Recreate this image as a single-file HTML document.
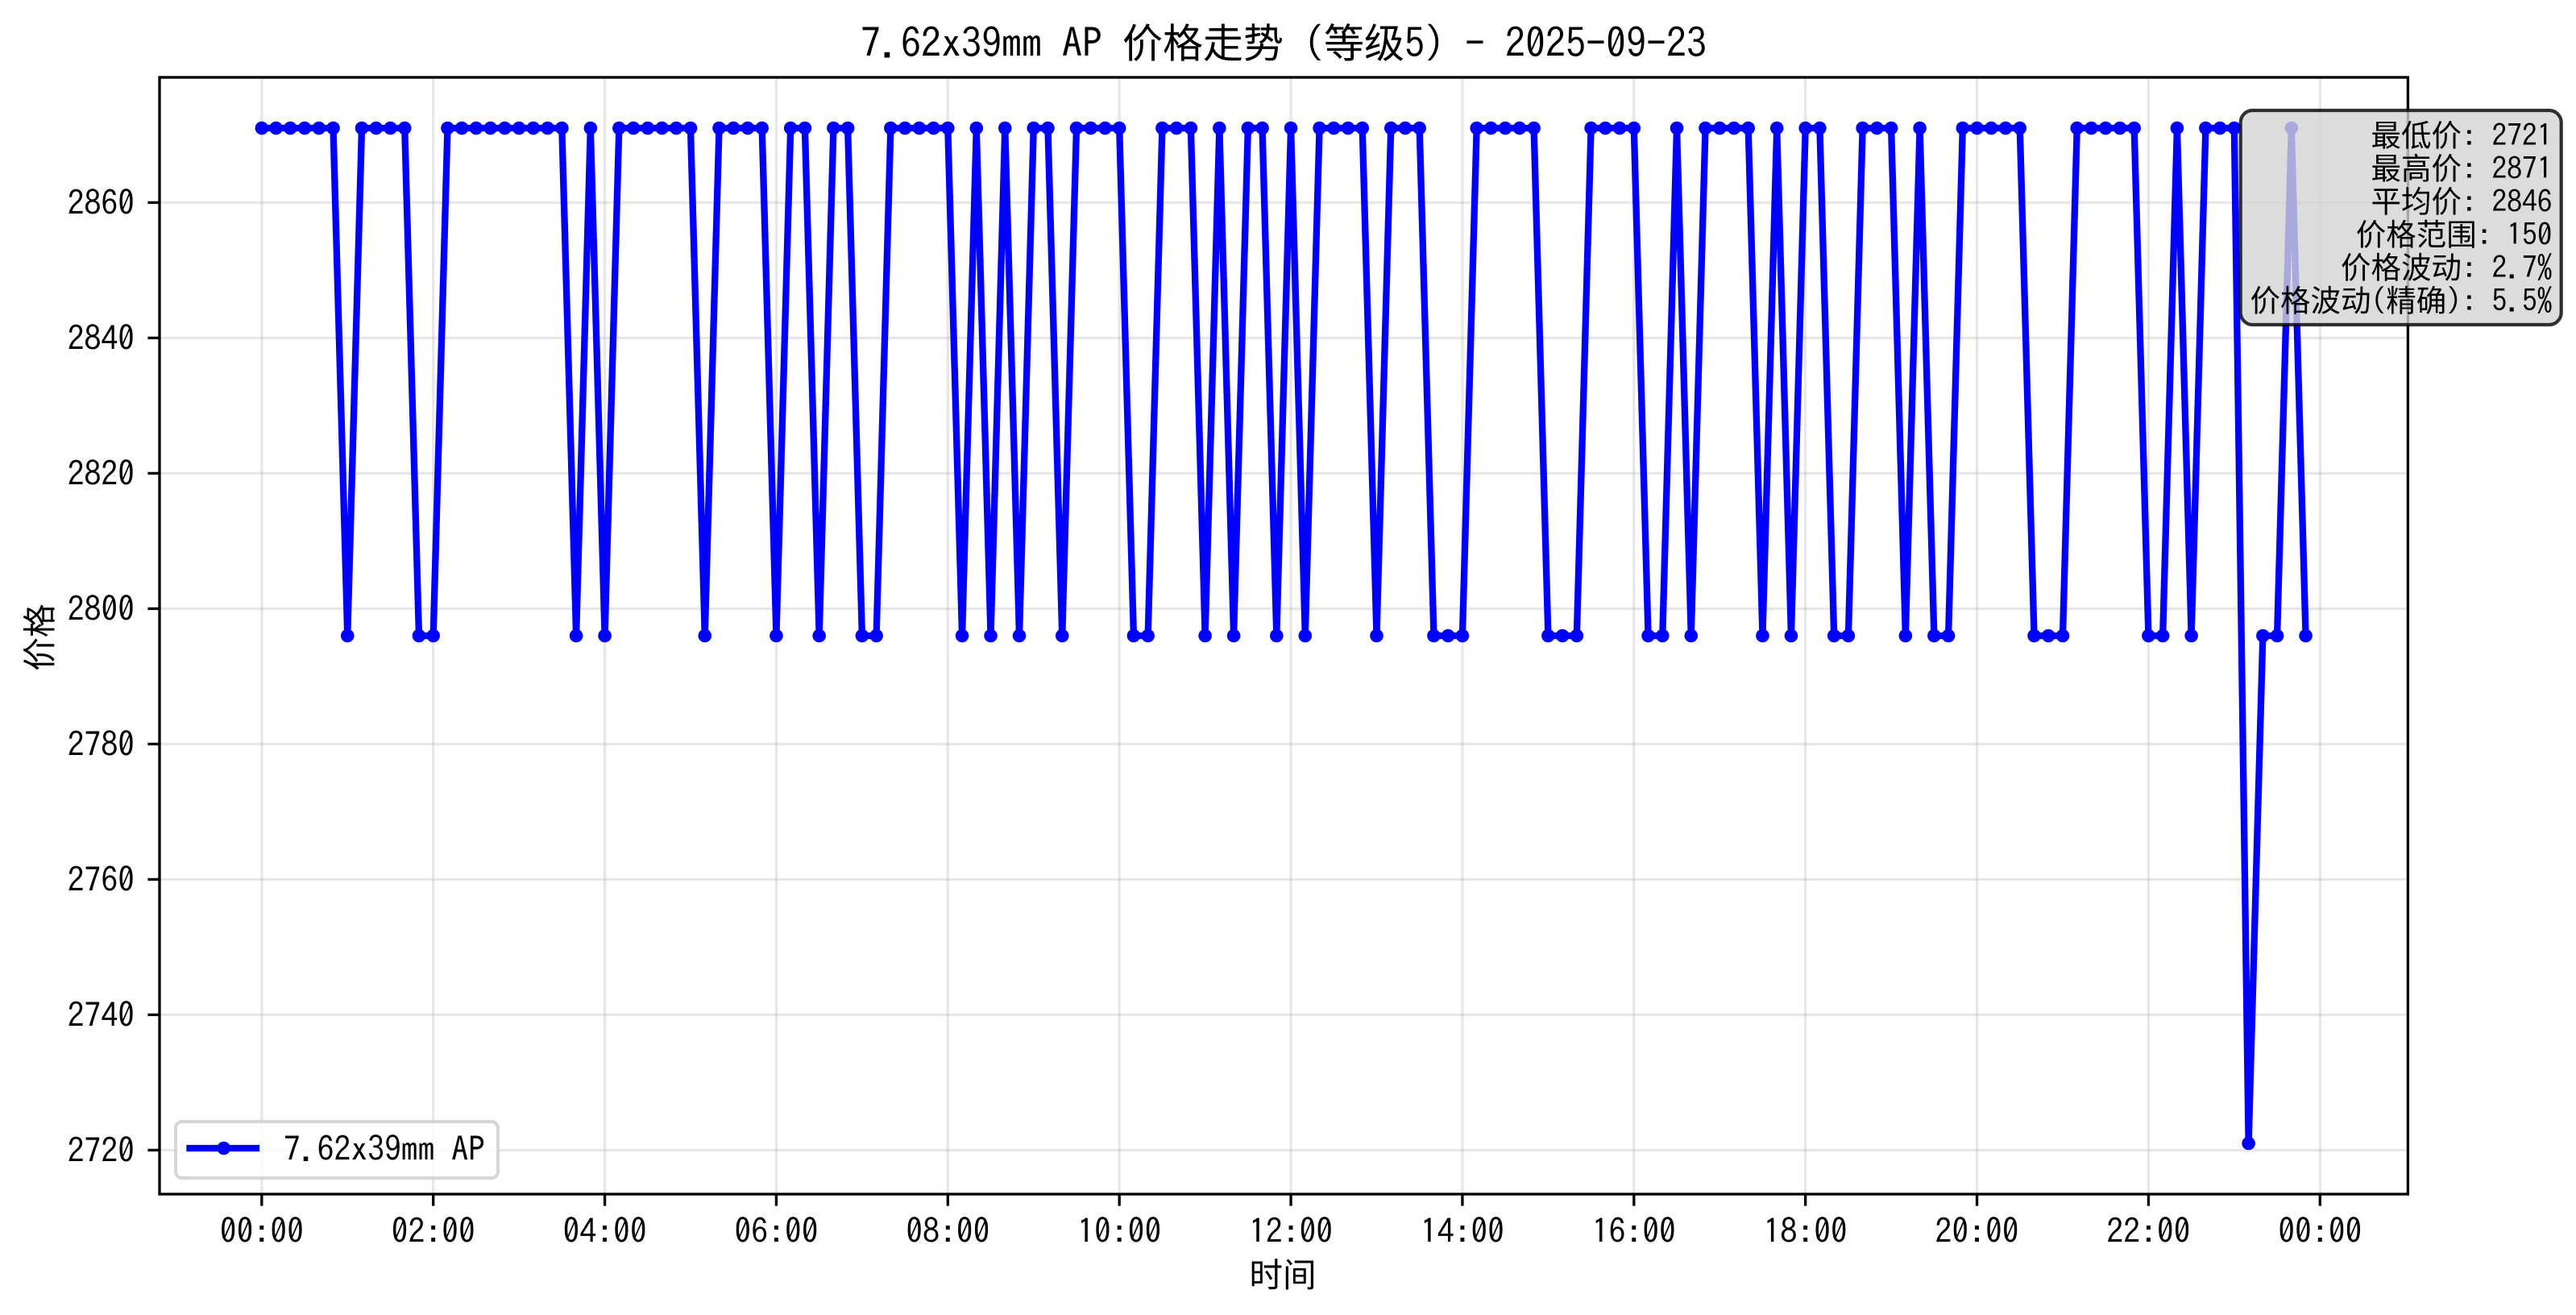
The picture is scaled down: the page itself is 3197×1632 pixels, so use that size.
<!DOCTYPE html>
<html lang="zh">
<head>
<meta charset="utf-8">
<title>7.62x39mm AP 价格走势</title>
<style>
html,body{margin:0;padding:0;background:#fff;}
svg{display:block;}
text{white-space:pre;fill:#000;}
.lat{font-family:"IPAGothic","Liberation Mono",monospace;}
.cjk{font-family:"Noto Sans CJK SC","WenQuanYi Zen Hei",sans-serif;}
.tick-text{font-family:"IPAGothic","Liberation Mono",monospace;font-size:41.67px;}
.stat{font-size:37.5px;}
</style>
</head>
<body>
<svg id="chart" xmlns="http://www.w3.org/2000/svg" width="3197" height="1632" viewBox="0 0 3197 1632">
  <rect x="0" y="0" width="3197" height="1632" fill="#ffffff"/>
  <g id="grid"></g>
  <g id="series"></g>
  <rect x="198" y="96" width="2790.4" height="1386" fill="none" stroke="#000" stroke-width="3.33"/>
  <g id="ticks"></g>

  <text x="1593" y="71.5" text-anchor="middle" font-size="50"><tspan class="lat">7.62x39mm AP </tspan><tspan class="cjk">价格走势</tspan><tspan class="lat"> (</tspan><tspan class="cjk">等级</tspan><tspan class="lat">5) - 2025-09-23</tspan></text>
  <text class="cjk" x="1592" y="1597" text-anchor="middle" font-size="41.67">时间</text>
  <text class="cjk" transform="translate(64 791) rotate(-90)" text-anchor="middle" font-size="41.67">价格</text>

  <g>
    <rect x="218" y="1392" width="400" height="70" rx="8" ry="8" fill="#ffffff" fill-opacity="0.8" stroke="#cccccc" stroke-opacity="0.8" stroke-width="4.17"/>
    <line x1="235.5" y1="1425" x2="318" y2="1425" stroke="#0000ff" stroke-width="8.33" stroke-linecap="square"/>
    <circle cx="277.7" cy="1425" r="8.3" fill="#0000ff"/>
    <text class="lat" x="352" y="1441" font-size="41.67">7.62x39mm AP</text>
  </g>

  <g>
    <rect x="2780.7" y="137" width="398" height="266" rx="15" ry="15" fill="#d3d3d3" fill-opacity="0.8" stroke="#000000" stroke-opacity="0.8" stroke-width="4.17"/>
    <text class="stat" x="3167.5" y="181.5" text-anchor="end"><tspan class="cjk">最低价</tspan><tspan class="lat">: 2721</tspan></text>
    <text class="stat" x="3167.5" y="222.5" text-anchor="end"><tspan class="cjk">最高价</tspan><tspan class="lat">: 2871</tspan></text>
    <text class="stat" x="3167.5" y="263.5" text-anchor="end"><tspan class="cjk">平均价</tspan><tspan class="lat">: 2846</tspan></text>
    <text class="stat" x="3167.5" y="304.5" text-anchor="end"><tspan class="cjk">价格范围</tspan><tspan class="lat">: 150</tspan></text>
    <text class="stat" x="3167.5" y="345.5" text-anchor="end"><tspan class="cjk">价格波动</tspan><tspan class="lat">: 2.7%</tspan></text>
    <text class="stat" x="3167.5" y="386.5" text-anchor="end"><tspan class="cjk">价格波动</tspan><tspan class="lat">(</tspan><tspan class="cjk">精确</tspan><tspan class="lat">): 5.5%</tspan></text>
  </g>
</svg>
<script>
const times = [
"00:00","00:10","00:20","00:30","00:40","00:50","01:00","01:10","01:20","01:30","01:40","01:50",
"02:00","02:10","02:20","02:30","02:40","02:50","03:00","03:10","03:20","03:30","03:40","03:50",
"04:00","04:10","04:20","04:30","04:40","04:50","05:00","05:10","05:20","05:30","05:40","05:50",
"06:00","06:10","06:20","06:30","06:40","06:50","07:00","07:10","07:20","07:30","07:40","07:50",
"08:00","08:10","08:20","08:30","08:40","08:50","09:00","09:10","09:20","09:30","09:40","09:50",
"10:00","10:10","10:20","10:30","10:40","10:50","11:00","11:10","11:20","11:30","11:40","11:50",
"12:00","12:10","12:20","12:30","12:40","12:50","13:00","13:10","13:20","13:30","13:40","13:50",
"14:00","14:10","14:20","14:30","14:40","14:50","15:00","15:10","15:20","15:30","15:40","15:50",
"16:00","16:10","16:20","16:30","16:40","16:50","17:00","17:10","17:20","17:30","17:40","17:50",
"18:00","18:10","18:20","18:30","18:40","18:50","19:00","19:10","19:20","19:30","19:40","19:50",
"20:00","20:10","20:20","20:30","20:40","20:50","21:00","21:10","21:20","21:30","21:40","21:50",
"22:00","22:10","22:20","22:30","22:40","22:50","23:00","23:10","23:20","23:30","23:40","23:50"
];
const prices = [
2871,2871,2871,2871,2871,2871,2796,2871,2871,2871,2871,2796,
2796,2871,2871,2871,2871,2871,2871,2871,2871,2871,2796,2871,
2796,2871,2871,2871,2871,2871,2871,2796,2871,2871,2871,2871,
2796,2871,2871,2796,2871,2871,2796,2796,2871,2871,2871,2871,
2871,2796,2871,2796,2871,2796,2871,2871,2796,2871,2871,2871,
2871,2796,2796,2871,2871,2871,2796,2871,2796,2871,2871,2796,
2871,2796,2871,2871,2871,2871,2796,2871,2871,2871,2796,2796,
2796,2871,2871,2871,2871,2871,2796,2796,2796,2871,2871,2871,
2871,2796,2796,2871,2796,2871,2871,2871,2871,2796,2871,2796,
2871,2871,2796,2796,2871,2871,2871,2796,2871,2796,2796,2871,
2871,2871,2871,2871,2796,2796,2796,2871,2871,2871,2871,2871,
2796,2796,2871,2796,2871,2871,2871,2721,2796,2796,2871,2796
];
const yTickValues = [2720,2740,2760,2780,2800,2820,2840,2860];
const xTickLabels = ["00:00","02:00","04:00","06:00","08:00","10:00","12:00","14:00","16:00","18:00","20:00","22:00","00:00"];
const xTickHours = [0,2,4,6,8,10,12,14,16,18,20,22,24];

const NS = "http://www.w3.org/2000/svg";
const plotLeft = 198, plotRight = 2988.4, plotTop = 96, plotBottom = 1482;

function minutesOf(t){
  const p = t.split(":");
  return Number(p[0]) * 60 + Number(p[1]);
}
const firstMinute = minutesOf(times[0]);
const lastMinute = minutesOf(times[times.length - 1]);
const xMargin = (lastMinute - firstMinute) * 0.05;
const xDomainMin = firstMinute - xMargin;
const xDomainMax = lastMinute + xMargin;
const dataMin = Math.min.apply(null, prices);
const dataMax = Math.max.apply(null, prices);
const yMargin = (dataMax - dataMin) * 0.05;
const yDomainMin = dataMin - yMargin;
const yDomainMax = dataMax + yMargin;

function xScale(m){
  return plotLeft + (m - xDomainMin) / (xDomainMax - xDomainMin) * (plotRight - plotLeft);
}
function yScale(v){
  return plotBottom - (v - yDomainMin) / (yDomainMax - yDomainMin) * (plotBottom - plotTop);
}
function make(tag, parent){
  const el = document.createElementNS(NS, tag);
  parent.appendChild(el);
  return el;
}
function setLine(el, x1, y1, x2, y2, color, width, opacity){
  el.setAttribute("x1", x1);
  el.setAttribute("y1", y1);
  el.setAttribute("x2", x2);
  el.setAttribute("y2", y2);
  el.setAttribute("stroke", color);
  el.setAttribute("stroke-width", width);
  el.setAttribute("stroke-opacity", opacity);
}

const gridGroup = document.getElementById("grid");
const tickGroup = document.getElementById("ticks");
const seriesGroup = document.getElementById("series");

xTickHours.forEach(function(h, i){
  const x = xScale(h * 60);
  const g = make("line", gridGroup);
  
  
  setLine(g, x, plotTop, x, plotBottom, "#b0b0b0", 3.33, 0.3);
  const t = make("line", tickGroup);
  
  
  setLine(t, x, plotBottom, x, plotBottom + 14.6, "#000", 3.33, 1);
  const l = make("text", tickGroup);
  
  
  l.setAttribute("class", "tick-text");
  l.setAttribute("x", x);
  l.setAttribute("y", 1543);
  l.setAttribute("text-anchor", "middle");
  l.textContent = xTickLabels[i];
});

yTickValues.forEach(function(v){
  const y = yScale(v);
  const g = make("line", gridGroup);
  
  
  setLine(g, plotLeft, y, plotRight, y, "#b0b0b0", 3.33, 0.3);
  const t = make("line", tickGroup);
  
  
  setLine(t, plotLeft - 14.6, y, plotLeft, y, "#000", 3.33, 1);
  const l = make("text", tickGroup);
  
  
  l.setAttribute("class", "tick-text");
  l.setAttribute("x", 167);
  l.setAttribute("y", y + 15.5);
  l.setAttribute("text-anchor", "end");
  l.textContent = String(v);
});

const linePoints = prices.map(function(v, i){
  return xScale(minutesOf(times[i])).toFixed(2) + "," + yScale(v).toFixed(2);
}).join(" ");
const priceLine = make("polyline", seriesGroup);


priceLine.setAttribute("points", linePoints);
priceLine.setAttribute("fill", "none");
priceLine.setAttribute("stroke", "#0000ff");
priceLine.setAttribute("stroke-width", "8.33");
priceLine.setAttribute("stroke-linejoin", "round");
priceLine.setAttribute("stroke-linecap", "square");

prices.forEach(function(v, i){
  const c = make("circle", seriesGroup);
  
  
  c.setAttribute("cx", xScale(minutesOf(times[i])).toFixed(2));
  c.setAttribute("cy", yScale(v).toFixed(2));
  c.setAttribute("r", "8.3");
  c.setAttribute("fill", "#0000ff");
});
</script>
</body>
</html>
